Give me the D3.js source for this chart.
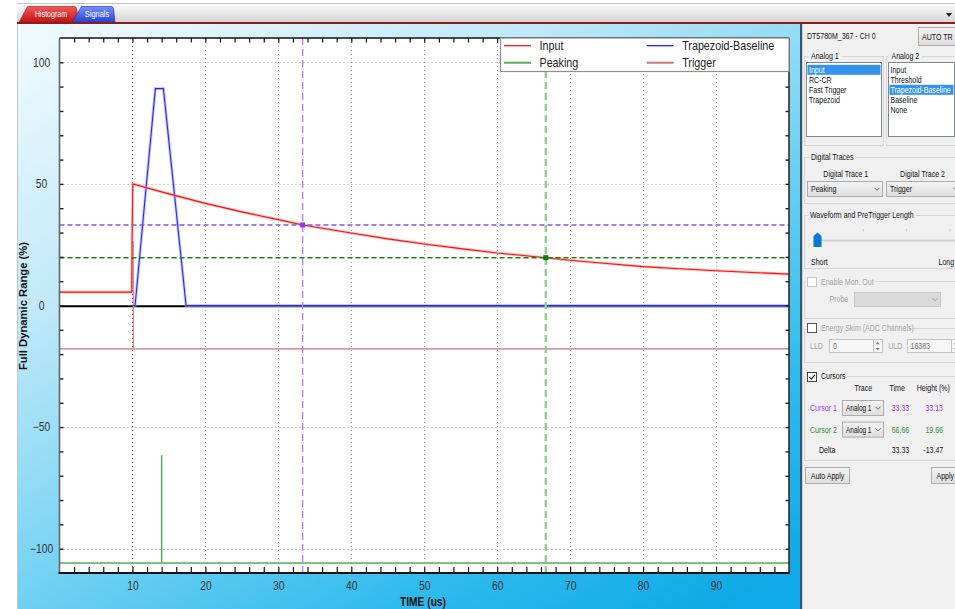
<!DOCTYPE html>
<html>
<head>
<meta charset="utf-8">
<script src="https://cdn.jsdelivr.net/npm/d3@7"></script>
<style>
  html, body { margin: 0; padding: 0; background: #fff; overflow: hidden; }
  svg { display: block; font-family: "Liberation Sans", Arial, sans-serif; }
</style>
</head>
<body>
<svg id="scope" width="955" height="609"></svg>
<script>
// ---- Signal traces: time in µs, amplitude in % of full dynamic range ----
const inputTime  = [0, 9.9, 9.95, 10.05, 15, 20, 25, 30, 33.33, 40, 45, 50, 55, 60, 66.66, 70, 75, 80, 85, 90, 95, 100];
const inputValue = [5.5, 5.5, 27, 50, 45.9, 42.0, 38.5, 35.3, 33.13, 29.8, 27.4, 25.3, 23.4, 21.6, 19.66, 18.6, 17.3, 16.0, 15.1, 14.3, 13.6, 12.9];
const trapTime   = [10.1, 10.36, 13.14, 14.24, 17.35, 100];
const trapValue  = [0, 0, 89.2, 89.2, 0, 0];
const peakTime   = [0, 14.0, 14.0, 14.0, 100];
const peakValue  = [-105.9, -105.9, -61.6, -105.9, -105.9];
const trigTime   = [0, 10.1, 10.1, 10.1, 100];
const trigValue  = [-17.8, -17.8, 26.5, -17.8, -17.8];

const seriesNames  = ["Input", "Peaking", "Trapezoid-Baseline", "Trigger"];
const cursorNames  = ["Cursor 1", "Cursor 2"];
const cursorTime   = [33.33, 66.66];
const cursorHeight = [33.13, 19.66];

const xLabelTicks = [10, 20, 30, 40, 50, 60, 70, 80, 90];
const xMinorTicks = d3.range(2, 100, 2);
const yLabelTicks = [-100, -50, 0, 50, 100];
const yMinorTicks = d3.range(-100, 101, 10);
const yGridTicks  = [-100, -50, 50, 100];

const analog1Items = ["Input", "RC-CR", "Fast Trigger", "Trapezoid"];
const analog2Items = ["Input", "Threshold", "Trapezoid-Baseline", "Baseline", "None"];
const digitalItems = ["Peaking", "Trigger"];

// ---- helpers ----
const svg = d3.select("#scope");
function squish(sel, k) {
  sel.each(function () {
    const t = d3.select(this);
    const x = +t.attr("x") || 0, y = +t.attr("y") || 0;
    const prev = t.attr("transform") || "";
    t.attr("transform", `${prev} translate(${x},${y}) scale(${k},1) translate(${-x},${-y})`);
  });
  return sel;
}
function grad(id, x1, y1, x2, y2, stops, user) {
  const g = defs.append("linearGradient").attr("id", id)
    .attr("x1", x1).attr("y1", y1).attr("x2", x2).attr("y2", y2);
  if (user) g.attr("gradientUnits", "userSpaceOnUse");
  stops.forEach(([o, c]) => g.append("stop").attr("offset", o).attr("stop-color", c));
}
const defs = svg.append("defs");
grad("bar", 0, 0, 0, 1, [[0, "#fdfdfd"], [1, "#d3d3d3"]]);
grad("panel", 17, 23, 451, 771, [[0, "#f2fbfe"], [0.3, "#c0e9f8"], [0.55, "#7ad4f3"], [0.8, "#30bbed"], [1, "#0ea9e6"]], true);
grad("tabRed", 0, 0, 0, 1, [[0, "#f25a5a"], [1, "#c41010"]]);
grad("tabBlue", 0, 0, 0, 1, [[0, "#7590ff"], [1, "#2440d6"]]);
grad("btn", 0, 0, 0, 1, [[0, "#f3f3f3"], [1, "#dedede"]]);

// ---- window chrome: tab strip ----
svg.append("rect").attr("x", 17).attr("y", 3).attr("width", 938).attr("height", 20).attr("fill", "url(#bar)");
svg.append("line").attr("x1", 17).attr("x2", 955).attr("y1", 3.5).attr("y2", 3.5).attr("stroke", "#c4c4c4");
svg.append("path").attr("d", "M19,22.5 L27.5,6.5 L74,6.5 Q76,6.5 76.5,8.5 L79,22.5 Z").attr("fill", "url(#tabRed)").attr("stroke", "#9a1010").attr("stroke-width", 0.6);
svg.append("path").attr("d", "M72,22.5 L81.5,6.5 L111,6.5 Q113,6.5 113.5,8.5 L115,22.5 Z").attr("fill", "url(#tabBlue)").attr("stroke", "#1a2fa0").attr("stroke-width", 0.6);
squish(svg.append("text").attr("x", 51).attr("y", 17).attr("text-anchor", "middle").attr("font-size", 9.5).attr("fill", "#fff").text("Histogram"), 0.74);
squish(svg.append("text").attr("x", 97).attr("y", 17).attr("text-anchor", "middle").attr("font-size", 9.5).attr("fill", "#fff").text("Signals"), 0.78);
svg.append("rect").attr("x", 17).attr("y", 22).attr("width", 938).attr("height", 2).attr("fill", "#8c1d1d");
svg.append("path").attr("d", "M946,13 L952,13 L949,17 Z").attr("fill", "#222");

// ---- blue chart panel ----
svg.append("rect").attr("x", 17).attr("y", 24).attr("width", 783).attr("height", 585).attr("fill", "url(#panel)");
svg.append("line").attr("x1", 17.5).attr("x2", 17.5).attr("y1", 24).attr("y2", 609).attr("stroke", "#b8cbd4");

// ---- plot ----
const plot = { l: 59.5, r: 789, t: 38, b: 573 };
const x = d3.scaleLinear().domain([0, 100]).range([plot.l, plot.r]);
const y = d3.scaleLinear().domain([-110, 110]).range([plot.b, plot.t]);

svg.append("rect").attr("x", plot.l).attr("y", plot.t).attr("width", plot.r - plot.l).attr("height", plot.b - plot.t).attr("fill", "#fff");
svg.append("clipPath").attr("id", "plotClip").append("rect")
  .attr("x", plot.l).attr("y", plot.t).attr("width", plot.r - plot.l).attr("height", plot.b - plot.t);

// dotted grid
const grid = svg.append("g").attr("stroke-dasharray", "1,3").attr("stroke-width", 1);
grid.selectAll("line.v").data(xLabelTicks).join("line").attr("class", "v")
  .attr("stroke", (d, i) => i === 0 ? "#666" : "#a8a8a8")
  .attr("x1", d => Math.round(x(d)) + 0.5).attr("x2", d => Math.round(x(d)) + 0.5)
  .attr("y1", plot.t).attr("y2", plot.b);
grid.selectAll("line.h").data(yGridTicks).join("line").attr("class", "h")
  .attr("stroke", "#a8a8a8")
  .attr("y1", d => Math.round(y(d)) + 0.5).attr("y2", d => Math.round(y(d)) + 0.5)
  .attr("x1", plot.l).attr("x2", plot.r);

// zero line
svg.append("line").attr("x1", plot.l).attr("x2", plot.r).attr("y1", y(0) + 0.8).attr("y2", y(0) + 0.8)
  .attr("stroke", "#000").attr("stroke-width", 2);

const traces = svg.append("g").attr("clip-path", "url(#plotClip)").attr("fill", "none");
const line = d3.line().x(d => x(d[0])).y(d => y(d[1]));
const pts = (t, v) => t.map((d, i) => [d, v[i]]);

// Trigger
traces.append("path").attr("d", line(pts(trigTime, trigValue))).attr("stroke", "#c27474").attr("stroke-width", 1.2);
// Peaking
traces.append("path").attr("d", line(pts(peakTime, peakValue))).attr("stroke", "#5aaa5a").attr("stroke-width", 1.5);
// Trapezoid-Baseline
const trap = pts(trapTime, trapValue);
traces.append("path").attr("d", line(trap)).attr("stroke", "#a4a4ff").attr("stroke-width", 3).attr("opacity", 0.6);
traces.append("path").attr("d", line(trap)).attr("stroke", "#2626ff").attr("stroke-width", 1.1);
// Input
const inp = pts(inputTime, inputValue);
traces.append("path").attr("d", line(inp)).attr("stroke", "#ff9494").attr("stroke-width", 2.8).attr("opacity", 0.6);
traces.append("path").attr("d", line(inp)).attr("stroke", "#ff0f0f").attr("stroke-width", 1.1);

// cursors
const cur = svg.append("g").attr("clip-path", "url(#plotClip)");
const cursorVColor = ["#b57cf2", "#8fd08f"];
const cursorHColor = ["#8556e4", "#138a13"];
const cursorMark   = ["#9130ee", "#157815"];
cursorTime.forEach((t, i) => {
  cur.append("line").attr("x1", x(t)).attr("x2", x(t)).attr("y1", plot.t).attr("y2", plot.b)
    .attr("stroke", cursorVColor[i]).attr("stroke-width", i ? 2.4 : 1.4).attr("stroke-dasharray", "7,4");
  cur.append("line").attr("x1", plot.l).attr("x2", plot.r).attr("y1", y(cursorHeight[i])).attr("y2", y(cursorHeight[i]))
    .attr("stroke", cursorHColor[i]).attr("stroke-width", 1.5).attr("stroke-dasharray", "5,3");
  cur.append("rect").attr("x", x(t) - 2.5).attr("y", y(cursorHeight[i]) - 2.5).attr("width", 5).attr("height", 5)
    .attr("fill", cursorMark[i]);
});

// axes: ticks drawn inward on all four sides
function noDomain(g) { g.select(".domain").remove(); }
svg.append("g").attr("transform", `translate(0,${plot.b})`)
  .call(d3.axisBottom(x).tickValues(xMinorTicks).tickSize(-6).tickFormat(""))
  .call(noDomain).selectAll("line").attr("stroke", "#111").attr("stroke-width", 1.2);
svg.append("g").attr("transform", `translate(0,${plot.t})`)
  .call(d3.axisTop(x).tickValues(xMinorTicks).tickSize(-4.5).tickFormat(""))
  .call(noDomain).selectAll("line").attr("stroke", "#111").attr("stroke-width", 1.2);
svg.append("g").attr("transform", `translate(${plot.l},0)`)
  .call(d3.axisLeft(y).tickValues(yMinorTicks).tickSize(-4).tickFormat(""))
  .call(noDomain).selectAll("line").attr("stroke", "#222").attr("stroke-width", 1.4);
svg.append("g").attr("transform", `translate(${plot.r},0)`)
  .call(d3.axisRight(y).tickValues(yMinorTicks).tickSize(-3.5).tickFormat(""))
  .call(noDomain).selectAll("line").attr("stroke", "#222").attr("stroke-width", 1.4);

const xLab = svg.append("g").attr("transform", `translate(0,${plot.b})`)
  .call(d3.axisBottom(x).tickValues(xLabelTicks).tickSize(0).tickPadding(8.5).tickFormat(d3.format("d")))
  .call(noDomain);
xLab.selectAll("text").attr("font-size", 12).attr("fill", "#333").attr("font-family", "Liberation Sans, Arial, sans-serif");
squish(xLab.selectAll("text"), 0.86);

const yLab = svg.append("g").attr("transform", `translate(${plot.l},0)`)
  .call(d3.axisLeft(y).tickValues(yLabelTicks).tickSize(0).tickPadding(18).tickFormat(d3.format("d")))
  .call(noDomain);
yLab.selectAll("text").attr("font-size", 12).attr("fill", "#333").attr("text-anchor", "middle")
  .attr("font-family", "Liberation Sans, Arial, sans-serif");
squish(yLab.selectAll("text"), 0.86);

// frame
const fr = svg.append("g");
fr.append("line").attr("x1", plot.l).attr("x2", plot.r).attr("y1", plot.t).attr("y2", plot.t).attr("stroke", "#111").attr("stroke-width", 1.5);
fr.append("line").attr("x1", plot.r).attr("x2", plot.r).attr("y1", plot.t).attr("y2", plot.b).attr("stroke", "#222").attr("stroke-width", 1.5);
fr.append("line").attr("x1", plot.l).attr("x2", plot.l).attr("y1", plot.t).attr("y2", plot.b + 1).attr("stroke", "#666").attr("stroke-width", 1.6);
fr.append("line").attr("x1", plot.l - 1).attr("x2", plot.r + 0.7).attr("y1", plot.b).attr("y2", plot.b).attr("stroke", "#111").attr("stroke-width", 2);

// axis titles
svg.append("text").attr("transform", `translate(26.5,306) rotate(-90)`).attr("text-anchor", "middle")
  .attr("font-size", 11.5).attr("font-weight", "bold").attr("fill", "#111")
  .attr("textLength", 128).attr("lengthAdjust", "spacingAndGlyphs").text("Full Dynamic Range (%)");
squish(svg.append("text").attr("x", 423).attr("y", 606).attr("text-anchor", "middle")
  .attr("font-size", 12).attr("font-weight", "bold").attr("fill", "#111").text("TIME (us)"), 0.85);

// legend
const leg = svg.append("g");
leg.append("rect").attr("x", 500.5).attr("y", plot.t).attr("width", plot.r - 500.5).attr("height", 33.5)
  .attr("fill", "#fff").attr("stroke", "#8f8f8f").attr("stroke-width", 1.2);
const legColor = ["#ff1a1a", "#5aaa5a", "#2020ff", "#c47878"];
const legWidth = [1.3, 2, 1.3, 2];
const legPos = [[504, 45.7], [504, 62.7], [646.7, 45.7], [646.7, 62.7]];
seriesNames.forEach((n, i) => {
  const [lx, ly] = legPos[i];
  leg.append("line").attr("x1", lx).attr("x2", lx + 27).attr("y1", ly).attr("y2", ly)
    .attr("stroke", legColor[i]).attr("stroke-width", legWidth[i]);
  squish(leg.append("text").attr("x", lx + 35.5).attr("y", ly + 4.4).attr("font-size", 12.5).attr("fill", "#222").text(n), 0.86);
});

// ---- settings panel ----
const P = svg.append("g");
P.append("rect").attr("x", 802).attr("y", 24).attr("width", 153).attr("height", 585).attr("fill", "#f0f0f0");
P.append("rect").attr("x", 800).attr("y", 24).attr("width", 2.2).attr("height", 585).attr("fill", "#3b5566");

const K = 0.74;
function txt(x, yb, s, o = {}) {
  const t = P.append("text").attr("x", x).attr("y", yb).text(s)
    .attr("font-size", o.size || 9.5).attr("fill", o.fill || "#111")
    .attr("text-anchor", o.anchor || "start");
  squish(t, o.k || K);
  return t;
}
function box(x, y, w, h, fill, stroke) {
  return P.append("rect").attr("x", x).attr("y", y).attr("width", w).attr("height", h)
    .attr("fill", fill).attr("stroke", stroke).attr("stroke-width", 1);
}
function group(x, y, w, h, title, tx, o = {}) {
  box(x, y, w, h, "none", "#d6d6d6");
  const t = txt(tx, y + 3, title, o);
  const wLen = t.node().getComputedTextLength() * K;
  const left = tx - 2;
  P.insert("rect", () => t.node()).attr("x", left).attr("y", y - 6).attr("width", tx - left + wLen + 2).attr("height", 11).attr("fill", "#f0f0f0");
  return t;
}
function chevron(cx, cy, c) {
  P.append("path").attr("d", `M${cx - 2.6},${cy - 1.3} L${cx},${cy + 1.3} L${cx + 2.6},${cy - 1.3}`)
    .attr("fill", "none").attr("stroke", c || "#555").attr("stroke-width", 0.9);
}
function combo(x, y, w, h, s, o = {}) {
  box(x, y, w, h, o.disabled ? "#dadada" : "url(#btn)", o.disabled ? "#c8c8c8" : "#acacac");
  if (s) txt(x + 3.5, y + h / 2 + 3.3, s, { k: o.k });
  chevron(x + w - 5.5, y + h / 2, o.disabled ? "#9a9a9a" : "#555");
}
function checkbox(x, y, checked, stroke) {
  box(x, y, 9, 9, "#fff", stroke);
  if (checked) P.append("path").attr("d", `M${x + 1.8},${y + 4.6} L${x + 3.8},${y + 6.6} L${x + 7.4},${y + 2.4}`)
    .attr("fill", "none").attr("stroke", "#222").attr("stroke-width", 1.2);
}

txt(807, 39.5, "DT5780M_367 - CH 0");
box(918.5, 27.5, 45, 18, "url(#btn)", "#adadad");
txt(922, 40, "AUTO TR");

// analog trace lists
group(804.5, 56.5, 79, 89, "Analog 1", 811);
group(886.5, 56.5, 80, 89, "Analog 2", 891.5);
box(806.5, 62.5, 75, 74, "#fff", "#828790");
box(888.5, 62.5, 66, 74, "#fff", "#828790");
analog1Items.forEach((s, i) => {
  if (i === 0) P.append("rect").attr("x", 807.5).attr("y", 64.8 + 10 * i).attr("width", 73).attr("height", 10).attr("fill", "#3393ef");
  txt(809, 73 + 10 * i, s, { fill: i === 0 ? "#fff" : "#111" });
});
analog2Items.forEach((s, i) => {
  if (i === 2) P.append("rect").attr("x", 889.5).attr("y", 64.8 + 10 * i).attr("width", 64).attr("height", 10).attr("fill", "#3393ef");
  txt(890.5, 73 + 10 * i, s, { fill: i === 2 ? "#fff" : "#111" });
});

// digital traces
group(804.5, 157.5, 160, 46, "Digital Traces", 811);
txt(845.8, 177.5, "Digital Trace 1", { anchor: "middle" });
txt(922.5, 177.5, "Digital Trace 2", { anchor: "middle" });
combo(807.5, 181.5, 75, 15, digitalItems[0]);
combo(886.5, 181.5, 75, 15, digitalItems[1]);

// waveform length slider
group(804.5, 215.5, 160, 53, "Waveform and PreTrigger Length", 810);
P.append("line").attr("x1", 813).attr("x2", 955).attr("y1", 240.5).attr("y2", 240.5).attr("stroke", "#d2d2d2").attr("stroke-width", 2);
[863.3, 906.7, 950].forEach(tx => P.append("line").attr("x1", tx).attr("x2", tx).attr("y1", 229).attr("y2", 231.5).attr("stroke", "#c4c4c4"));
P.append("path").attr("d", "M813.5,247 L813.5,236 L817.5,232.5 L821.5,236 L821.5,247 Z").attr("fill", "#0a78d7");
txt(811, 265, "Short");
txt(938.5, 265, "Long");

// monitor output (disabled)
box(804.5, 281.5, 160, 37, "none", "#d6d6d6");
P.append("rect").attr("x", 805).attr("y", 276).attr("width", 70).attr("height", 12).attr("fill", "#f0f0f0");
checkbox(807.5, 277.5, false, "#c4c4c4");
txt(821, 285, "Enable Mon. Out", { fill: "#a3a3a3" });
txt(829.5, 302.5, "Probe", { fill: "#a3a3a3" });
combo(854.5, 292.5, 86, 14, "", { disabled: true });

// energy skim
box(804.5, 328.5, 160, 34, "none", "#d6d6d6");
P.append("rect").attr("x", 805).attr("y", 322).attr("width", 104).attr("height", 12).attr("fill", "#f0f0f0");
checkbox(807.5, 323.5, false, "#555");
txt(821, 331.5, "Energy Skim (ADC Channels)", { fill: "#a3a3a3" });
txt(810, 349, "LLD", { fill: "#a3a3a3" });
box(829.5, 339.5, 53, 13, "#f7f7f7", "#c4c4c4");
txt(833, 349, "0", { fill: "#6d6d6d" });
txt(888.3, 349, "ULD", { fill: "#a3a3a3" });
box(907.5, 339.5, 53, 13, "#f7f7f7", "#c4c4c4");
txt(910.5, 349, "16383", { fill: "#6d6d6d" });
[873.5, 951.5].forEach(sx => {
  P.append("line").attr("x1", sx).attr("x2", sx).attr("y1", 340).attr("y2", 352).attr("stroke", "#c4c4c4");
  P.append("path").attr("d", `M${sx + 2},${344.3} L${sx + 4.2},${342} L${sx + 6.4},${344.3} Z M${sx + 2},${348} L${sx + 4.2},${350.3} L${sx + 6.4},${348} Z`).attr("fill", "#777");
});

// cursors
box(804.5, 376.5, 160, 84, "none", "#d6d6d6");
P.append("rect").attr("x", 805).attr("y", 371).attr("width", 42).attr("height", 12).attr("fill", "#f0f0f0");
checkbox(807.5, 372.5, true, "#444");
txt(821, 379.5, "Cursors");
txt(863.3, 391.5, "Trace", { anchor: "middle" });
txt(897.2, 391.5, "Time", { anchor: "middle" });
txt(933.3, 391.5, "Height (%)", { anchor: "middle" });
const cursorText = ["#9a3cf0", "#2f8f2f"];
cursorNames.forEach((n, i) => {
  const yb = 411 + 21.6 * i;
  txt(810, yb, n, { fill: cursorText[i] });
  combo(842.5, yb - 10.5, 41, 15, "Analog 1", { k: 0.68 });
  txt(900.5, yb, cursorTime[i].toFixed(2), { anchor: "middle", fill: cursorText[i] });
  txt(934.2, yb, cursorHeight[i].toFixed(2), { anchor: "middle", fill: cursorText[i] });
});
txt(827.2, 453.5, "Delta", { anchor: "middle" });
txt(900.5, 453.5, (cursorTime[1] - cursorTime[0]).toFixed(2), { anchor: "middle" });
txt(933.3, 453.5, (cursorHeight[1] - cursorHeight[0]).toFixed(2), { anchor: "middle" });

// apply buttons
box(805.5, 467.5, 44, 16, "url(#btn)", "#adadad");
txt(827.5, 479, "Auto Apply", { anchor: "middle" });
box(931.5, 467.5, 40, 16, "url(#btn)", "#adadad");
txt(936.5, 479, "Apply");
</script>
</body>
</html>
